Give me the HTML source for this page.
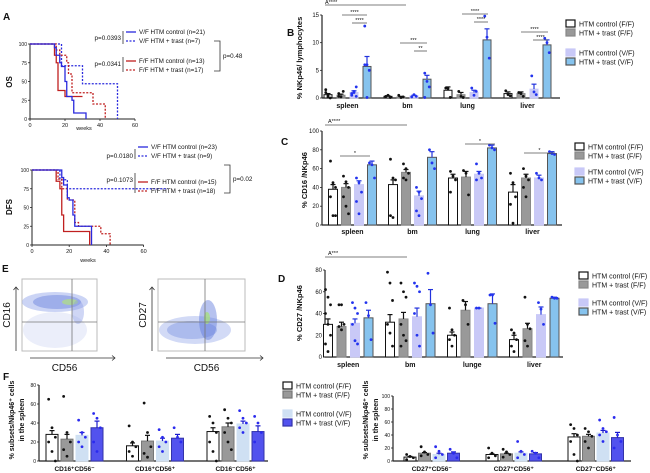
<!DOCTYPE html>
<html><head><meta charset="utf-8"><style>
body{margin:0;background:#fff}
svg{display:block;font-family:"Liberation Sans",Arial,sans-serif}
text{fill:#111}
</style></head><body>
<svg id="fig" width="650" height="473" viewBox="0 0 650 473">
<g id="root"></g>
</svg>
<script>
// ---------- DATA ----------
const groupsBCD = ["spleen","bm","lung","liver"];
const groupsD = ["spleen","bm","lunge","liver"];
const seriesB = ["HTM control (F/F)","HTM + trast (F/F)","HTM control (V/F)","HTM + trast (V/F)"];
const valuesB = [[0.6,0.5,1.0,5.7],[0.3,0.2,0.4,3.4],[1.4,0.6,1.0,10.5],[0.8,0.8,1.6,9.6]];
const errB = [[0.2,0.2,0.3,1.8],[0.1,0.1,0.1,0.7],[0.6,0.4,0.4,2.0],[0.3,0.3,0.9,0.9]];
const dotsB = [[[1,0.2,0,1.5,0.5],[0.8,0.2,1.2,0.3],[0.5,1,2,0.8,1.2,0.3],[13,6,5,6,0.1]],
 [[0.3,0.5,0.1],[0.5,0.1,0.2],[0.2,0.6,0.3],[4.5,3,2,0.1]],
 [[1.8,1.7,0.1],[1.2,0.3,0.1],[1.8,0.5,1.2],[14.8,11,7.2]],
 [[1.3,0.6,0.4],[1.0,0.8,0.3],[4,1.1,0.6],[10.8,10,8.2]]];
const valuesC = [[38,40,43,64],[43,56,31,72],[50,51,54,82],[35,50,50,76]];
const errC = [[5,4,4,4],[5,3,5,6],[4,6,3,3],[8,4,3,2]];
const dotsC = [[[68,45,40,30,10,10],[52,46,40,30,20,12],[50,45,35,25,12],[66,64,50]],
 [[70,50,48,10,8],[65,60,55,50,48],[40,35,28,15,10],[80,66,60]],
 [[57,52,48,35],[58,55,32],[65,55,50,48],[85,82,80]],
 [[55,45,30,22,2],[60,52,48,40,30],[55,50,48],[78,76,75]]];
const valuesD = [[30,28,31,36],[32,35,37,49],[20,43,45,49],[16,26,39,54]];
const errD = [[5,4,4,7],[7,6,8,13],[3,8,0,9],[4,5,7,1]];
const dotsD = [[[62,55,48,40,30,20,12,5],[48,48,30,28,25],[50,45,40,30,15,12],[50,38,16]],
 [[78,68,52,30,22,10],[68,60,55,30,20,15,10],[68,65,60,40,20,10],[77,48,22]],
 [[45,25,20,16,10],[52,48,30],[45,45],[57,57,31]],
 [[25,22,16,10,5],[55,30,26,15,10],[50,44,30],[55,54,54]]];
const groupsF1 = ["CD16⁺CD56⁻","CD16⁺CD56⁺","CD16⁻CD56⁺"];
const valuesF1 = [[28,23,27,35],[16,21,21,24],[31,36,39,31]];
const errF1 = [[4,5,3,7],[3,6,3,4],[4,4,3,6]];
const dotsF1 = [[[65,35,25,20,10,0],[68,30,20,12,5],[43,30,25,20,15],[50,45,35,20,10]],
 [[37,20,15,10,5],[61,30,15,8,4],[33,25,20,15,10],[35,25,20]],
 [[47,40,30,20,10,0],[54,45,40,30,20,12],[53,45,40,35,30],[47,40,30,20]]];
const groupsF2 = ["CD27⁺CD56⁻","CD27⁺CD56⁺","CD27⁻CD56⁺"];
const valuesF2 = [[6,12,10,12],[10,11,12,11],[37,38,43,36]];
const errF2 = [[1,1,2,2],[1,1,2,2],[5,3,4,8]];
const dotsF2 = [[[10,7,5,2],[22,14,10,8],[22,15,10,5],[18,12,5]],
 [[20,12,8,5],[18,14,10,6],[30,15,10,5],[15,12,5]],
 [[56,50,40,30,10,0],[50,45,38,30,20],[63,50,45,40,30],[67,40,30,20]]];
// survival (week, % survival)
const osVFc = [[0,100],[13,100],[14,95],[15,85],[17,75],[18,70],[20,50],[21,30],[24,25],[25,8],[32,8],[32,0]];
const osVFt = [[0,100],[16,100],[18,71],[30,71],[30,47],[50,47],[50,0]];
const osFFc = [[0,100],[10,100],[14,85],[15,75],[16,38],[20,38],[20,30],[30,30]];
const osFFt = [[0,100],[13,100],[15,92],[17,85],[21,75],[22,60],[24,35],[35,35],[36,20],[43,20],[43,0]];
const dfsVFc = [[0,100],[14,100],[16,90],[17,80],[19,63],[20,60],[22,40],[23,25],[32,25],[32,0]];
const dfsVFt = [[0,100],[14,100],[15,87],[19,75],[73,75]];
const dfsFFc = [[0,100],[12,100],[13,85],[15,75],[16,40],[17,18],[31,18],[31,0]];
const dfsFFt = [[0,100],[12,100],[14,88],[16,75],[19,60],[23,30],[25,25],[35,25],[37,15],[42,15],[42,0]];

// ---------- HELPERS ----------
const NS="http://www.w3.org/2000/svg";
const root=document.getElementById('root');
function el(tag,attrs,parent,txt){const e=document.createElementNS(NS,tag);for(const k in attrs)e.setAttribute(k,attrs[k]);if(txt!==undefined)e.textContent=txt;(parent||root).appendChild(e);return e;}
function txt(x,y,s,size,opts){opts=opts||{};const t=el('text',Object.assign({x:x,y:y,'font-size':size,'text-anchor':opts.anchor||'start','font-weight':opts.bold?'bold':'normal'},opts.rot?{transform:`rotate(-90 ${x} ${y})`}:{}),opts.parent,s);return t;}

function barChart(cfg){
  const g=el('g',{});
  
  
  const ys=v=>cfg.y0-(v-cfg.min)/(cfg.max-cfg.min)*(cfg.y0-cfg.y1);
  const xs=(gi,si)=>cfg.x0+gi*cfg.gstep+si*cfg.bstep;
  el('line',{x1:cfg.ax,y1:cfg.y1,x2:cfg.ax,y2:cfg.y0,stroke:'#222','stroke-width':1.2},g);
  el('line',{x1:cfg.ax,y1:cfg.y0,x2:cfg.axEnd,y2:cfg.y0,stroke:'#222','stroke-width':1.2},g);
  cfg.ticks.forEach(t=>{const y=ys(t);el('line',{x1:cfg.ax-2,y1:y,x2:cfg.ax,y2:y,stroke:'#222','stroke-width':0.8},g);
    const tl=txt(cfg.ax-3,y+2,String(t),cfg.tfs||6,{anchor:'end',parent:g});
    
    });
  cfg.values.forEach((grp,gi)=>{
    grp.forEach((v,si)=>{
      const cx=xs(gi,si),w=cfg.bw;
      const r=el('rect',{x:cx-w/2,y:ys(v),width:w,height:cfg.y0-ys(v),fill:cfg.colors[si],stroke:cfg.strokes[si],'stroke-width':1},g);
      
      
      const e=cfg.err[gi][si],ec=si>=2?cfg.errBlue:'#111';
      el('line',{x1:cx,y1:ys(v),x2:cx,y2:ys(v+e),stroke:ec,'stroke-width':1.2},g);
      el('line',{x1:cx-2.5,y1:ys(v+e),x2:cx+2.5,y2:ys(v+e),stroke:ec,'stroke-width':1.2},g);
      const ds=cfg.dots[gi][si];
      ds.forEach((d,k)=>{const dx=cx+((k%3)-1)*w*0.28;
        const c=el('circle',{cx:dx,cy:ys(Math.max(cfg.min,d)),r:1.4,fill:si>=2?cfg.dotBlue:'#111'},g);
        
        });
    });
    const cxm=(xs(gi,0)+xs(gi,grp.length-1))/2;
    const gl=txt(cxm,cfg.y0+cfg.labOff,cfg.groups[gi],cfg.lfs||7,{anchor:'middle',bold:true,parent:g});
    
    
  });
  const yl=txt(cfg.ylx,cfg.yly,cfg.ylabel,cfg.ylfs||7.5,{anchor:'middle',bold:true,rot:true,parent:g});
  
  
  return ys;
}
function legend(x,y,cols,strokes,labels,gap,name){
  const g=el('g',{});
  
  
  const offs=[0,9,gap,gap+9];
  labels.forEach((l,i)=>{
    const r=el('rect',{x:x,y:y+offs[i],width:9,height:7,fill:cols[i],stroke:strokes[i],'stroke-width':1.2},g);
    
    
    const t=txt(x+13,y+offs[i]+6.5,l,7,{parent:g});
    
    
  });
}
function sig(x1,x2,y,label){el('line',{x1:x1,y1:y,x2:x2,y2:y,stroke:'#555','stroke-width':0.8});txt((x1+x2)/2,y-1,label,5.5,{anchor:'middle'});}

const WHITE='#ffffff',GRAY='#999999',LAV='#c9c9f7',SKY='#86c3ee',LBLUE='#cfe0f3',BLUE='#5252ee';
const strokesB=['#111','#888','#c9c9f7','#555'];

// ---------- PANEL B ----------
barChart({name:'panel-b-chart',groups:groupsBCD,values:valuesB,err:errB,dots:dotsB,min:0,max:15,y0:98,y1:15,ax:322,axEnd:560,
 x0:328,gstep:60,bstep:13,bw:8,ticks:[0,5,10,15],colors:[WHITE,GRAY,LAV,SKY],strokes:strokesB,errBlue:'#2233dd',dotBlue:'#2233ee',
 labOff:10,ylabel:'% NKp46/ lymphocytes',ylx:302,yly:58});
txt(287,36,'B',10,{bold:true});
legend(566,20,[WHITE,GRAY,LAV,SKY],strokesB,seriesB,29,'legend-b');
sig(325,406,5,'');txt(325,4,'A****',5.5);
sig(342,367,15,'****');sig(352,367,23,'****');
sig(400,427,43,'***');sig(414,427,51,'**');
sig(462,488,14,'****');sig(474,488,22,'****');
sig(521,548,32,'****');sig(533,548,40,'****');

// ---------- PANEL C ----------
barChart({name:'panel-c-chart',groups:groupsBCD,values:valuesC,err:errC,dots:dotsC,min:0,max:100,y0:225,y1:131,ax:322,axEnd:562,
 x0:333,gstep:60,bstep:13,bw:9,ticks:[0,20,40,60,80,100],colors:[WHITE,GRAY,LAV,SKY],strokes:strokesB,errBlue:'#2233dd',dotBlue:'#2233ee',
 labOff:9,ylabel:'% CD16 /NKp46',ylx:307,yly:180});
txt(281,145,'C',10,{bold:true});
legend(575,143,[WHITE,GRAY,LAV,SKY],strokesB,seriesB,25,'legend-c');
sig(325,407,125,'');txt(328,123,'A****',5.5);
sig(340,370,156,'*');sig(465,495,144,'*');sig(524,555,153,'*');

// ---------- PANEL D ----------
barChart({name:'panel-d-chart',groups:groupsD,values:valuesD,err:errD,dots:dotsD,min:0,max:80,y0:357,y1:270,ax:325,axEnd:563,
 x0:328,gstep:62,bstep:13.5,bw:9,ticks:[0,20,40,60,80],colors:[WHITE,GRAY,LAV,SKY],strokes:strokesB,errBlue:'#2233dd',dotBlue:'#2233ee',
 labOff:10,ylabel:'% CD27 /NKp46',ylx:302,yly:313});
txt(278,282,'D',10,{bold:true});
legend(579,272,[WHITE,GRAY,LAV,SKY],strokesB,seriesB,27,'legend-d');
sig(325,407,257,'');txt(328,255,'A***',5.5);

// ---------- PANEL F ----------
const strokesF=['#111','#777','#cfe0f3','#3333aa'];
barChart({name:'panel-f-left-chart',groups:groupsF1,values:valuesF1,err:errF1,dots:dotsF1,min:0,max:80,y0:461,y1:385,ax:39,axEnd:268,
 x0:52,gstep:80.5,bstep:15,bw:12,ticks:[0,20,40,60,80],tfs:5,colors:[WHITE,GRAY,LBLUE,BLUE],strokes:strokesF,errBlue:'#1a1acc',dotBlue:'#2a2aee',
 labOff:10,lfs:6.5,ylabel:'% subsets/Nkp46⁺ cells',ylx:14,yly:420,ylfs:7});
txt(24,420,'in the spleen',7,{anchor:'middle',bold:true,rot:true});
txt(3,380,'F',10,{bold:true});
legend(283,382,[WHITE,GRAY,LBLUE,BLUE],strokesF,seriesB,28,'legend-f');
barChart({name:'panel-f-right-chart',groups:groupsF2,values:valuesF2,err:errF2,dots:dotsF2,min:0,max:100,y0:461,y1:396,ax:393,axEnd:631,
 x0:410,gstep:82,bstep:14.5,bw:12,ticks:[0,20,40,60,80,100],tfs:5,colors:[WHITE,GRAY,LBLUE,BLUE],strokes:strokesF,errBlue:'#1a1acc',dotBlue:'#2a2aee',
 labOff:10,lfs:6.5,ylabel:'% subsets/Nkp46⁺ cells',ylx:368,yly:420,ylfs:7});
txt(378,420,'in the spleen',7,{anchor:'middle',bold:true,rot:true});

// ---------- PANEL A ----------
function km(name,x0,xk,y0,yk,curves,xmax){
  const g=el('g',{});
  
  
  const X=t=>x0+t*xk,Y=s=>y0-s*yk;
  el('line',{x1:x0,y1:Y(100),x2:x0,y2:Y(0),stroke:'#222','stroke-width':1},g);
  el('line',{x1:x0,y1:Y(0),x2:X(xmax),y2:Y(0),stroke:'#222','stroke-width':1},g);
  [0,25,50,75,100].forEach(v=>{el('line',{x1:x0-2,y1:Y(v),x2:x0,y2:Y(v),stroke:'#222','stroke-width':0.8},g);txt(x0-3,Y(v)+2,String(v),5,{anchor:'end',parent:g});});
  [0,20,40,60].forEach(v=>{el('line',{x1:X(v),y1:Y(0),x2:X(v),y2:Y(0)+2,stroke:'#222','stroke-width':0.8},g);txt(X(v),Y(0)+8,String(v),5.5,{anchor:'middle',parent:g});});
  curves.forEach(c=>{
    let d='';c.pts.forEach((p,i)=>{if(i===0)d+=`M${X(p[0])},${Y(p[1])}`;else{d+=`H${X(p[0])}V${Y(p[1])}`;}});
    const p=el('path',{d:d,fill:'none',stroke:c.col,'stroke-width':1.3,'stroke-dasharray':c.dash?'2,1.5':'none'},g);
    
    
  });
  return {X,Y};
}
const BL='#2a2add',RD='#c02020';
km('os-curve-chart',30,1.75,119,0.75,[
 {pts:osVFt,col:BL,dash:true,name:'os-vf-trast-line'},{pts:osFFt,col:RD,dash:true,name:'os-ff-trast-line'},
 {pts:osFFc,col:RD,name:'os-ff-control-line'},{pts:osVFc,col:BL,name:'os-vf-control-line'}],60);
txt(84,130,'weeks',5.5,{anchor:'middle'});
txt(12,82,'OS',8,{anchor:'middle',bold:true,rot:true});
txt(3,20,'A',10,{bold:true});
km('dfs-curve-chart',32,1.86,245,0.75,[
 {pts:dfsVFt,col:BL,dash:true,name:'dfs-vf-trast-line'},{pts:dfsFFt,col:RD,dash:true,name:'dfs-ff-trast-line'},
 {pts:dfsFFc,col:RD,name:'dfs-ff-control-line'},{pts:dfsVFc,col:BL,name:'dfs-vf-control-line'}],60);
txt(88,262,'weeks',5.5,{anchor:'middle'});
txt(12,207,'DFS',8,{anchor:'middle',bold:true,rot:true});
function kmLeg(x,y,rows,pvals,pOuter,name){
  const g=el('g',{});
  
  
  rows.forEach((r,i)=>{const yy=y+r.dy;
    el('line',{x1:x,y1:yy-2,x2:x+10,y2:yy-2,stroke:r.col,'stroke-width':1.3,'stroke-dasharray':r.dash?'2,1.5':'none'},g);
    const t=txt(x+13,yy,r.t,6.3,{parent:g});
    
    });
  pvals.forEach(p=>{el('line',{x1:x-3,y1:y+p.a-6,x2:x-3,y2:y+p.b,stroke:'#333','stroke-width':0.8},g);txt(x-5,y+p.a+3,p.t,6.3,{anchor:'end',parent:g});});
  el('path',{d:`M${pOuter.x-6},${y+pOuter.a}H${pOuter.x}V${y+pOuter.b}H${pOuter.x-6}`,fill:'none',stroke:'#333','stroke-width':0.8},g);
  txt(pOuter.x+3,y+(pOuter.a+pOuter.b)/2+2,pOuter.t,6.3,{parent:g});
}
kmLeg(126,34,[{dy:0,col:BL,t:'V/F HTM control (n=21)'},{dy:9,col:BL,dash:true,t:'V/F HTM + trast (n=7)'},
 {dy:29,col:RD,t:'F/F HTM control (n=13)'},{dy:38,col:RD,dash:true,t:'F/F HTM + trast (n=17)'}],
 [{a:3,b:10,t:'p=0.0393'},{a:29,b:38,t:'p=0.0341'}],{x:220,a:7,b:37,t:'p=0.48'},'os-legend');
kmLeg(138,149,[{dy:0,col:BL,t:'V/F HTM control (n=23)'},{dy:9,col:BL,dash:true,t:'V/F HTM + trast (n=9)'},
 {dy:35,col:RD,t:'F/F HTM control (n=15)'},{dy:44,col:RD,dash:true,t:'F/F HTM + trast (n=18)'}],
 [{a:6,b:10,t:'p=0.0180'},{a:30,b:44,t:'p=0.1073'}],{x:230,a:16,b:44,t:'p=0.02'},'dfs-legend');

// ---------- PANEL E (flow plots) ----------
txt(2,272,'E',10,{bold:true});
function flow(name,x,y,w,h,qx,qy,ylab,cloud){
  const g=el('g',{});
  
  
  el('rect',{x:x,y:y,width:w,height:h,fill:'#fff',stroke:'#bbb','stroke-width':1},g);
  cloud.forEach(c=>{el('ellipse',{cx:c[0],cy:c[1],rx:c[2],ry:c[3],fill:c[4],opacity:c[5]},g);});
  el('line',{x1:x+qx,y1:y,x2:x+qx,y2:y+h,stroke:'#777','stroke-width':0.8},g);
  el('line',{x1:x,y1:y+qy,x2:x+w,y2:y+qy,stroke:'#777','stroke-width':0.8},g);
  el('path',{d:`M${x-6},${y+h}V${y+8}M${x-8.5},${y+11}L${x-6},${y+8}L${x-3.5},${y+11}`,fill:'none',stroke:'#333','stroke-width':0.8},g);
  el('path',{d:`M${x+8},${y+h+7}H${x+w+18}M${x+w+15},${y+h+4.5}L${x+w+18},${y+h+7}L${x+w+15},${y+h+9.5}`,fill:'none',stroke:'#333','stroke-width':0.8},g);
  txt(x-12,y+h/2,ylab,10,{anchor:'middle',rot:true,parent:g});
  txt(x+w/2+5,y+h+20,'CD56',10,{anchor:'middle',parent:g});
}
flow('flow-plot-cd16',22,279,75,72,50,43,'CD16',[[55,330,32,18,'#e2e7f8',0.7],[55,302,33,10,'#a9b8ee',0.6],[57,302,24,7,'#7188e0',0.5],[70,302,8,3,'#b0e080',0.7],[78,312,6,12,'#8899e6',0.4]]);
flow('flow-plot-cd27',158,279,87,72,47,43,'CD27',[[195,330,36,14,'#b4c2f0',0.6],[192,330,25,9,'#7f95e2',0.45],[208,320,9,20,'#5d77dc',0.45],[207,318,3,6,'#a8e080',0.8]]);
</script>
</body></html>
